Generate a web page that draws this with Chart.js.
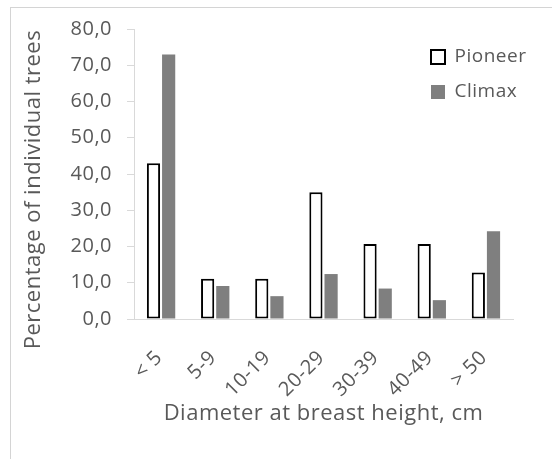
<!DOCTYPE html>
<html>
<head>
<meta charset="utf-8">
<script src="https://cdn.jsdelivr.net/npm/chart.js@4/dist/chart.umd.min.js"></script>
<style>
  html, body { margin: 0; padding: 0; background: #ffffff; overflow: hidden; }
  #wrap { position: relative; width: 552px; height: 459px; overflow: hidden; }
  #frame { position: absolute; left: 10px; top: 7px; width: 600px; height: 500px;
           border: 1px solid #D4D4D4; box-sizing: border-box; }
  canvas { position: absolute; left: 0; top: 0; }
</style>
</head>
<body>
<div id="wrap">
  <div id="frame"></div>
  <canvas id="chart" width="552" height="459"></canvas>
</div>
<script>
// Diameter classes (DBH, cm)
const categories = ['< 5', '5-9', '10-19', '20-29', '30-39', '40-49', '> 50'];
// Share of individual trees per class, %
const pioneerPct = [43.0, 11.1, 11.1, 35.0, 20.7, 20.7, 12.8];
const climaxPct  = [73.0, 9.1, 6.3, 12.4, 8.4, 5.2, 24.2];
// Value axis labels (decimal comma)
const yTickLabels = ['0,0', '10,0', '20,0', '30,0', '40,0', '50,0', '60,0', '70,0', '80,0'];

const TEXT = '#595959';
const AXIS = '#D9D9D9';
const FAMILY = "'Open Sans', 'Noto Sans', sans-serif";

// Slightly wider letter spacing for all canvas text
const tracking = {
  id: 'tracking',
  beforeUpdate(chart) { chart.ctx.letterSpacing = '0.5px'; }
};

// Put the legend inside the plot, upper right
const legendInside = {
  id: 'legendInside',
  afterLayout(chart) {
    const lg = chart.legend;
    if (!lg) return;
    const w = lg.width, h = lg.height;
    lg.left = 415; lg.top = 31.5;
    lg.right = lg.left + w; lg.bottom = lg.top + h;
  }
};

new Chart(document.getElementById('chart'), {
  type: 'bar',
  data: {
    labels: categories,
    datasets: [
      {
        label: 'Pioneer',
        data: pioneerPct,
        backgroundColor: '#FFFFFF',
        borderColor: '#000000',
        borderWidth: 2,
        borderSkipped: false
      },
      {
        label: 'Climax',
        data: climaxPct,
        backgroundColor: '#7F7F7F',
        borderWidth: 0
      }
    ]
  },
  options: {
    responsive: false,
    animation: false,
    events: [],
    layout: { padding: { left: 10, top: 29, right: 39, bottom: 30 } },
    datasets: { bar: { categoryPercentage: 0.56, barPercentage: 0.87 } },
    scales: {
      x: {
        z: 1,
        grid: { display: false, drawTicks: false },
        border: { display: true, color: AXIS, width: 1 },
        ticks: {
          color: TEXT,
          font: { family: FAMILY, size: 20 },
          minRotation: 45,
          maxRotation: 45,
          padding: 27,
          labelOffset: -2
        },
        title: {
          display: true,
          text: 'Diameter at breast height, cm',
          color: TEXT,
          font: { family: FAMILY, size: 22 },
          padding: { top: 0, bottom: 2 }
        },
        afterFit(scale) { scale.height = 110; }
      },
      y: {
        min: 0,
        max: 80,
        ticks: {
          stepSize: 10,
          color: TEXT,
          font: { family: FAMILY, size: 20 },
          padding: 15,
          callback: (v) => yTickLabels[Math.round(v / 10)]
        },
        grid: { drawOnChartArea: false, drawTicks: true, tickLength: 7, color: AXIS },
        border: { display: true, color: AXIS, width: 1 },
        title: {
          display: true,
          text: 'Percentage of individual trees     ',
          color: TEXT,
          font: { family: FAMILY, size: 22 },
          padding: { top: 11, bottom: 0 }
        },
        afterFit(scale) { scale.width = 124; }
      }
    },
    plugins: {
      tooltip: { enabled: false },
      legend: {
        position: 'chartArea',
        align: 'start',
        labels: {
          color: TEXT,
          font: { family: FAMILY, size: 19 },
          boxWidth: 14,
          boxHeight: 14,
          padding: 16
        }
      }
    }
  },
  plugins: [tracking, legendInside]
});
</script>
</body>
</html>
